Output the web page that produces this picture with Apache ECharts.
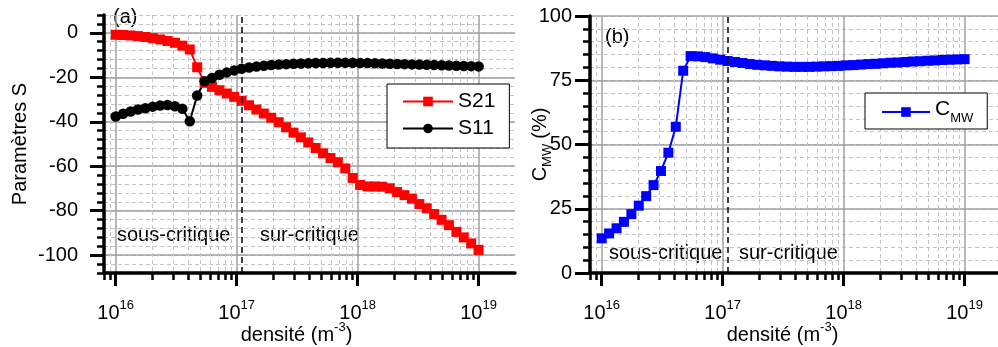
<!DOCTYPE html>
<html><head><meta charset="utf-8">
<script src="https://cdn.jsdelivr.net/npm/echarts@6/dist/echarts.min.js"></script>
<style>html,body{margin:0;padding:0;background:#fff}#c{width:998px;height:347px}</style>
</head><body><div id="c"></div>
<script>
// ---- data ----
const density = [1.000e16, 1.151e16, 1.326e16, 1.526e16, 1.758e16, 2.024e16, 2.330e16, 2.683e16, 3.089e16, 3.557e16,
  4.095e16, 4.715e16, 5.429e16, 6.251e16, 7.198e16, 8.287e16, 9.541e16, 1.099e17, 1.265e17, 1.456e17,
  1.677e17, 1.931e17, 2.223e17, 2.560e17, 2.947e17, 3.393e17, 3.907e17, 4.499e17, 5.180e17, 5.964e17,
  6.867e17, 7.906e17, 9.103e17, 1.048e18, 1.207e18, 1.390e18, 1.600e18, 1.842e18, 2.121e18, 2.442e18,
  2.812e18, 3.237e18, 3.728e18, 4.292e18, 4.942e18, 5.690e18, 6.551e18, 7.543e18, 8.685e18, 1.000e19];
const s21 = [-0.9, -1.0, -1.2, -1.5, -1.9, -2.4, -3.0, -3.7, -4.5, -5.8,
  -7.5, -15.5, -22.5, -24.3, -25.8, -27.3, -28.8, -30.6, -32.6, -34.5,
  -36.3, -38.2, -40.2, -42.5, -44.9, -47.0, -49.3, -51.8, -54.2, -56.3,
  -58.2, -61.0, -65.3, -68.4, -69.1, -69.1, -69.2, -69.9, -71.6, -73.0,
  -74.6, -77.0, -78.9, -81.5, -84.1, -86.5, -89.5, -92.0, -94.7, -97.6];
const s11 = [-37.6, -36.4, -35.4, -34.5, -33.9, -33.2, -32.7, -32.5, -33.0, -34.2,
  -39.8, -28.2, -21.8, -20.3, -18.9, -17.8, -16.9, -16.2, -15.6, -15.2,
  -14.8, -14.5, -14.3, -14.1, -13.9, -13.8, -13.7, -13.6, -13.6, -13.5,
  -13.5, -13.5, -13.5, -13.6, -13.6, -13.7, -13.8, -13.9, -14.0, -14.1,
  -14.2, -14.3, -14.4, -14.5, -14.6, -14.7, -14.8, -14.9, -15.0, -15.1];
const cmw = [13.5, 15.4, 17.4, 19.9, 22.9, 26.2, 29.9, 34.2, 39.7, 46.8,
  56.9, 78.7, 84.4, 84.3, 84.0, 83.5, 83.0, 82.5, 82.1, 81.7,
  81.3, 81.0, 80.8, 80.6, 80.4, 80.3, 80.2, 80.2, 80.2, 80.3,
  80.4, 80.5, 80.6, 80.8, 80.9, 81.1, 81.3, 81.4, 81.6, 81.8,
  81.9, 82.1, 82.3, 82.4, 82.6, 82.7, 82.9, 83.0, 83.1, 83.2];
const xMajorTicks = [1e16, 1e17, 1e18, 1e19];
const xMinorTicks = [8e15, 9e15,
  2e16, 3e16, 4e16, 5e16, 6e16, 7e16, 8e16, 9e16,
  2e17, 3e17, 4e17, 5e17, 6e17, 7e17, 8e17, 9e17,
  2e18, 3e18, 4e18, 5e18, 6e18, 7e18, 8e18, 9e18, 2e19];
const sTicks = [-100, -80, -60, -40, -20, 0];
const criticalDensity = 1.1e17;

// ---- chart ----
const FONT = '"Liberation Sans", Arial, sans-serif';
const pair = ys => density.map((d, i) => [d, ys[i]]);
const supRich = {
  b: { fontSize: 20, fontFamily: FONT, color: '#000', verticalAlign: 'bottom', lineHeight: 24 },
  sup: { fontSize: 13, fontFamily: FONT, color: '#000', verticalAlign: 'top', lineHeight: 14 }
};
const subRich = {
  b: { fontSize: 20, fontFamily: FONT, color: '#000', verticalAlign: 'top', lineHeight: 24 },
  sub: { fontSize: 13, fontFamily: FONT, color: '#000', verticalAlign: 'bottom', lineHeight: 14, padding: [0, 5, 0, 0] }
};
const XMIN = 8e15, XMAX = 2e19;

function xMinor(gi) {
  return { type: 'log', gridIndex: gi, min: XMIN, max: XMAX, position: 'bottom',
    axisLine: { show: false, onZero: false },
    axisTick: { show: true, customValues: xMinorTicks, length: 7, lineStyle: { color: '#000', width: 2.5 } },
    axisLabel: { show: false },
    splitLine: { show: true, lineStyle: { color: '#c4c4c4', width: 1, type: [4, 3] } } };
}
function xMajor(gi) {
  return { type: 'log', gridIndex: gi, min: XMIN, max: XMAX, position: 'bottom',
    axisLine: { show: true, onZero: false, lineStyle: { color: '#000', width: 3.5 } },
    axisTick: { show: true, customValues: xMajorTicks, length: 13, lineStyle: { color: '#000', width: 3 } },
    axisLabel: { customValues: xMajorTicks, margin: 26,
      formatter: v => '{b|10}{sup|' + Math.round(Math.log10(v)) + '}', rich: supRich },
    splitLine: { show: true, lineStyle: { color: '#a0a0a0', width: 1.5 } },
    name: '{b|densité (m}{sup|-3}{b|)}', nameLocation: 'middle', nameGap: 48, nameMoveOverlap: false,
    nameTextStyle: { rich: supRich, padding: [0, 26, 0, 0] } };
}
const axisLbl = { fontSize: 20, fontFamily: FONT, color: '#000' };

const option = {
  animation: false,
  backgroundColor: '#fff',
  grid: [
    { left: 104, top: 15, width: 411, height: 258, outerBoundsMode: 'none', containLabel: false },
    { left: 590, top: 16, width: 411, height: 257, outerBoundsMode: 'none', containLabel: false }
  ],
  xAxis: [xMinor(0), xMajor(0), xMinor(1), xMajor(1)],
  yAxis: [
    { type: 'value', gridIndex: 0, position: 'left', min: -108, max: 8, interval: 4,
      axisLine: { show: false, onZero: false },
      axisTick: { show: true, length: 7, lineStyle: { color: '#000', width: 2.5 } },
      axisLabel: { show: false },
      splitLine: { show: true, lineStyle: { color: '#c4c4c4', width: 1, type: [4, 3] } } },
    { type: 'value', gridIndex: 0, position: 'left', min: -108, max: 8, interval: 4,
      axisLine: { show: true, onZero: false, lineStyle: { color: '#000', width: 3.5 } },
      axisTick: { show: true, customValues: sTicks, length: 14, lineStyle: { color: '#000', width: 3 } },
      axisLabel: { customValues: sTicks, margin: 26, ...axisLbl },
      splitLine: { show: true, lineStyle: { color: '#a0a0a0', width: 1.5 } },
      name: 'Paramètres S', nameLocation: 'middle', nameGap: 74, nameMoveOverlap: false,
      nameTextStyle: { fontSize: 20, fontFamily: FONT, color: '#000' } },
    { type: 'value', gridIndex: 1, position: 'left', min: 0, max: 100, interval: 5,
      axisLine: { show: false, onZero: false },
      axisTick: { show: true, length: 7, lineStyle: { color: '#000', width: 2.5 } },
      axisLabel: { show: false },
      splitLine: { show: true, lineStyle: { color: '#c4c4c4', width: 1, type: [4, 3] } } },
    { type: 'value', gridIndex: 1, position: 'left', min: 0, max: 100, interval: 25,
      axisLine: { show: true, onZero: false, lineStyle: { color: '#000', width: 3.5 } },
      axisTick: { show: true, length: 15, lineStyle: { color: '#000', width: 3 } },
      axisLabel: { margin: 18, ...axisLbl },
      splitLine: { show: true, lineStyle: { color: '#a0a0a0', width: 1.5 } },
      name: '{b|C}{sub|MW}{b|(%)}', nameLocation: 'middle', nameGap: 36, nameMoveOverlap: false,
      nameTextStyle: { rich: subRich } }
  ],
  legend: [
    { data: ['S21', 'S11'], orient: 'vertical', left: 387, top: 84,
      backgroundColor: '#fff', borderColor: '#000', borderWidth: 1, borderRadius: 0,
      padding: [7, 14, 9, 15], itemWidth: 50, itemHeight: 12, itemGap: 6,
      textStyle: { fontSize: 21, fontFamily: FONT, color: '#000' } },
    { data: ['CMW'], orient: 'vertical', left: 865, top: 93,
      backgroundColor: '#fff', borderColor: '#000', borderWidth: 1, borderRadius: 0,
      padding: [6, 14, 4, 16], itemWidth: 48, itemHeight: 12,
      formatter: () => '{b|C}{sub|MW}',
      textStyle: { fontSize: 21, fontFamily: FONT, color: '#000',
        rich: { b: { fontSize: 21, fontFamily: FONT, color: '#000', verticalAlign: 'top', lineHeight: 26 },
                sub: { fontSize: 13, fontFamily: FONT, color: '#000', verticalAlign: 'bottom', lineHeight: 14 } } } }
  ],
  series: [
    { name: 'S21', type: 'line', xAxisIndex: 1, yAxisIndex: 1, data: pair(s21),
      symbol: 'rect', symbolSize: 10, color: '#ff0000',
      lineStyle: { width: 2, color: '#ff0000' }, itemStyle: { color: '#ff0000' },
      markLine: { silent: true, symbol: 'none', label: { show: false },
        lineStyle: { color: '#000', type: [6, 4], width: 1.5 }, data: [{ xAxis: criticalDensity }] } },
    { name: 'S11', type: 'line', xAxisIndex: 1, yAxisIndex: 1, data: pair(s11),
      symbol: 'circle', symbolSize: 10.5, color: '#000',
      lineStyle: { width: 2, color: '#000' }, itemStyle: { color: '#000' } },
    { name: 'CMW', type: 'line', xAxisIndex: 3, yAxisIndex: 3, data: pair(cmw),
      symbol: 'rect', symbolSize: 10, color: '#0000ff',
      lineStyle: { width: 2, color: '#0000ff' }, itemStyle: { color: '#0000ff' },
      markLine: { silent: true, symbol: 'none', label: { show: false },
        lineStyle: { color: '#000', type: [6, 4], width: 1.5 }, data: [{ xAxis: criticalDensity }] } }
  ],
  graphic: [
    { type: 'text', x: 113, y: 17, style: { text: '(a)', font: '20px ' + FONT, fill: '#000', verticalAlign: 'middle' } },
    { type: 'text', x: 605, y: 37, style: { text: '(b)', font: '20px ' + FONT, fill: '#000', verticalAlign: 'middle' } },
    { type: 'text', x: 117, y: 235, style: { text: 'sous-critique', font: '20px ' + FONT, fill: '#000', verticalAlign: 'middle' } },
    { type: 'text', x: 260, y: 235, style: { text: 'sur-critique', font: '20px ' + FONT, fill: '#000', verticalAlign: 'middle' } },
    { type: 'text', x: 609, y: 253, style: { text: 'sous-critique', font: '20px ' + FONT, fill: '#000', verticalAlign: 'middle' } },
    { type: 'text', x: 739, y: 253, style: { text: 'sur-critique', font: '20px ' + FONT, fill: '#000', verticalAlign: 'middle' } }
  ]
};
const chart = echarts.init(document.getElementById('c'), null, { renderer: 'canvas' });
chart.setOption(option);
</script>
</body></html>
